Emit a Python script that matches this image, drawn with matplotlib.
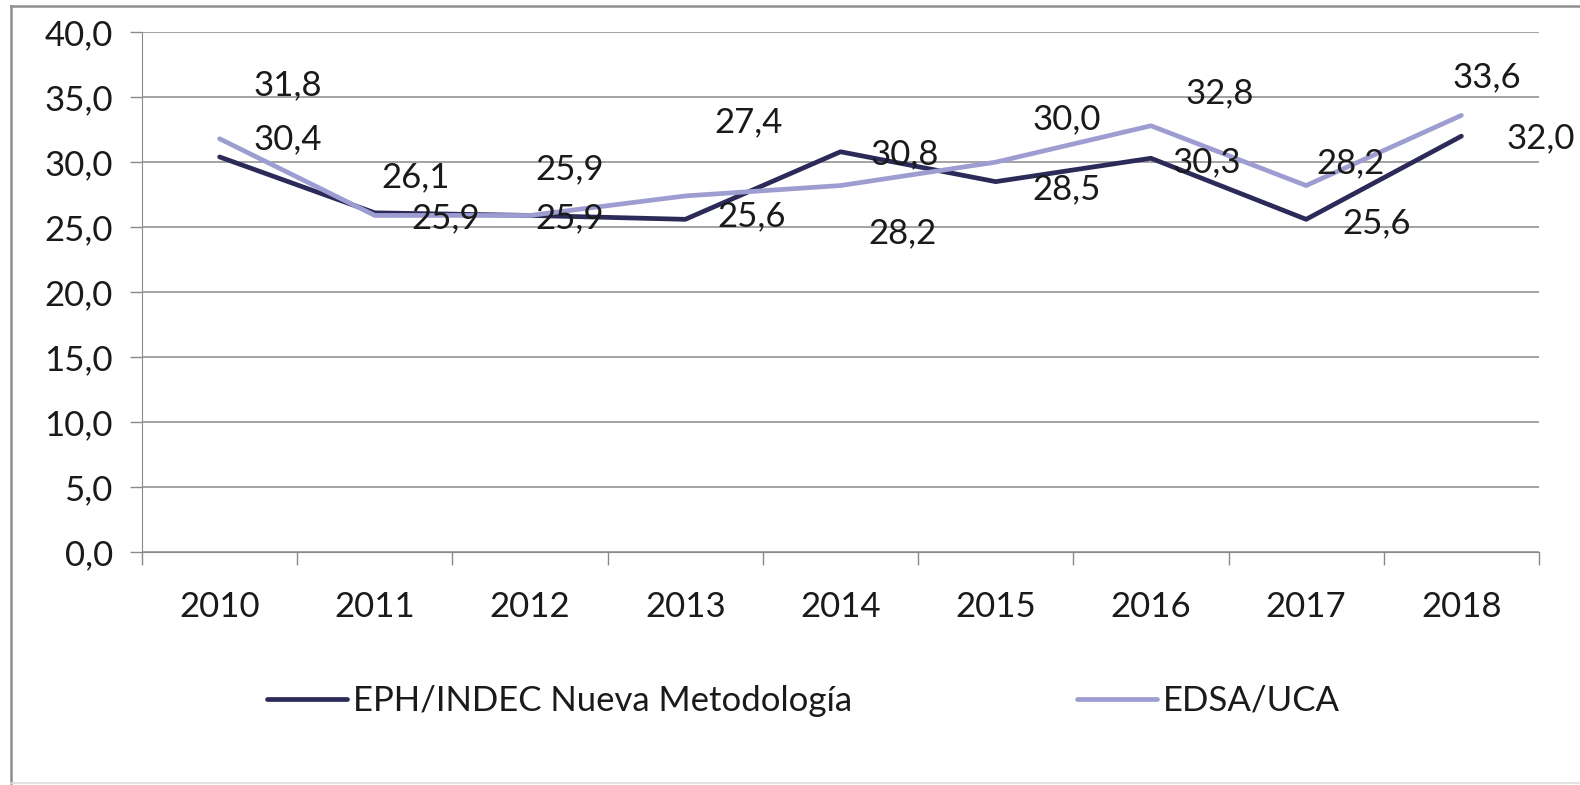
import matplotlib
matplotlib.use("Agg")
import matplotlib.pyplot as plt
from matplotlib.ticker import FixedLocator, FuncFormatter
from matplotlib.lines import Line2D

years = ["2010", "2011", "2012", "2013", "2014", "2015", "2016", "2017", "2018"]
eph_indec = [30.4, 26.1, 25.9, 25.6, 30.8, 28.5, 30.3, 25.6, 32.0]
edsa_uca = [31.8, 25.9, 25.9, 27.4, 28.2, 30.0, 32.8, 28.2, 33.6]
series_names = ["EPH/INDEC Nueva Metodología", "EDSA/UCA"]
y_ticks = [0, 5, 10, 15, 20, 25, 30, 35, 40]

# label offsets in pixels (dx, dy) relative to each point (style only)
eph_offsets = [(68, 18), (41, 36), (40, 46), (66, 3), (64, -2), (71, -8), (56, -4), (70, -4), (79, -2)]
edsa_offsets = [(68, 54), (71, -3), (40, -3), (63, 74), (62, -48), (71, 43), (69, 33), (44, 22), (25, 38)]

FONT = "Lato"
FS = 25
dark = "#2b2a58"
light = "#9e9dd2"
grid_c = "#8a8a8a"
txt_c = "#1a1a1a"

fig = plt.figure(figsize=(15.8, 7.85), dpi=100)
fig.patch.set_facecolor("white")
ax = fig.add_axes([142 / 1580, 1 - 552 / 785, (1539 - 142) / 1580, (552 - 32.2) / 785])

x = list(range(len(years)))
ax.plot(x, eph_indec, color=dark, lw=3.4, solid_capstyle="round", solid_joinstyle="round",
        label=series_names[0], zorder=3)
ax.plot(x, edsa_uca, color=light, lw=3.4, solid_capstyle="round", solid_joinstyle="round",
        label=series_names[1], zorder=4)

def fmt(v):
    return f"{v:.1f}".replace(".", ",")

for xi, v, off in zip(x, eph_indec, eph_offsets):
    ax.annotate(fmt(v), (xi, v), xytext=(off[0] * 0.72, off[1] * 0.72), textcoords="offset points",
                ha="center", va="center", fontsize=FS, family=FONT, color=txt_c, zorder=6,
                annotation_clip=False)
for xi, v, off in zip(x, edsa_uca, edsa_offsets):
    ax.annotate(fmt(v), (xi, v), xytext=(off[0] * 0.72, off[1] * 0.72), textcoords="offset points",
                ha="center", va="center", fontsize=FS, family=FONT, color=txt_c, zorder=6,
                annotation_clip=False)

ax.set_xlim(-0.5, len(years) - 0.5)
ax.set_ylim(0, 40)
ax.yaxis.set_major_locator(FixedLocator(y_ticks))
ax.yaxis.set_major_formatter(FuncFormatter(lambda v, p: fmt(v)))
ax.set_xticks(x)
ax.set_xticklabels(years)
ax.xaxis.set_minor_locator(FixedLocator([i - 0.5 for i in range(len(years) + 1)]))
ax.tick_params(axis="x", which="major", length=0, pad=28, labelsize=FS, labelcolor=txt_c)
ax.tick_params(axis="x", which="minor", length=9, color=grid_c, width=1)
ax.tick_params(axis="y", which="major", length=9, color=grid_c, width=1, pad=12,
               labelsize=FS, labelcolor=txt_c)
for lab in ax.get_xticklabels() + ax.get_yticklabels():
    lab.set_family(FONT)

ax.grid(axis="y", color=grid_c, lw=1.1)
ax.set_axisbelow(True)
for s in ["top", "right"]:
    ax.spines[s].set_visible(False)
ax.spines["left"].set_color(grid_c)
ax.spines["bottom"].set_color(grid_c)

leg = fig.legend(loc="center", bbox_to_anchor=(0.5085, 1 - 701 / 785), ncol=2, frameon=False,
                 prop={"family": FONT, "size": FS}, handlelength=2.3, handletextpad=0.15,
                 columnspacing=6.5)
for t in leg.get_texts():
    t.set_color(txt_c)

# outer frame: left and top visible, bottom faint
fig.add_artist(Line2D([11 / 1580, 11 / 1580], [1 - 783 / 785, 1 - 6 / 785], transform=fig.transFigure,
                      color="#8f8f8f", lw=1.8))
fig.add_artist(Line2D([11 / 1580, 1.0], [1 - 6 / 785, 1 - 6 / 785], transform=fig.transFigure,
                      color="#8f8f8f", lw=1.8))
fig.add_artist(Line2D([11 / 1580, 1.0], [1 - 783 / 785, 1 - 783 / 785], transform=fig.transFigure,
                      color="#dddddd", lw=1.2))

fig.savefig("out.png", dpi=100, facecolor="white")
